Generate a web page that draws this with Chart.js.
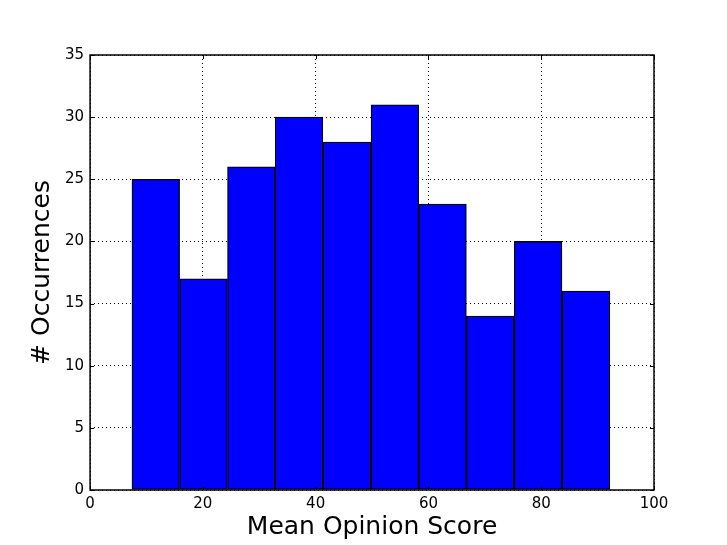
<!DOCTYPE html>
<html lang="en">
<head>
    <meta charset="UTF-8">
    <title>Mean Opinion Score histogram</title>
    <script src="https://cdn.jsdelivr.net/npm/chart.js@4.4.1/dist/chart.umd.min.js"></script>
    <style>
        html, body { margin: 0; padding: 0; background: #fff; }
        #wrap { width: 727px; height: 545px; }
    </style>
</head>
<body>
<div id="wrap"><canvas id="hist"></canvas></div>
<script>

    // histogram bins
    const binEdges = [7.4, 15.9, 24.4, 32.8, 41.3, 49.8, 58.3, 66.7, 75.2, 83.7, 92.2];
    const counts = [25, 17, 26, 30, 28, 31, 23, 14, 20, 16];
    const xTicks = [0, 20, 40, 60, 80, 100];
    const yTicks = [0, 5, 10, 15, 20, 25, 30, 35];

    let points = [];
    for (let i = 0; i < counts.length; i++) {
        points.push({x: (binEdges[i] + binEdges[i + 1]) / 2, y: counts[i]});
    }

    const font = "'DejaVu Sans', sans-serif";

    // box round the plot and small inward ticks, like matplotlib classic
    const frame = {
        id: 'frame',
        afterDraw(chart) {
            const ctx = chart.ctx;
            const a = chart.chartArea;
            const sx = chart.scales.x, sy = chart.scales.y;
            ctx.save();
            ctx.strokeStyle = '#000';
            ctx.lineWidth = 1;
            ctx.beginPath();
            xTicks.forEach(v => {
                const px = Math.round(sx.getPixelForValue(v)) + 0.5;
                ctx.moveTo(px, a.bottom); ctx.lineTo(px, a.bottom - 4);
                ctx.moveTo(px, a.top); ctx.lineTo(px, a.top + 4);
            });
            yTicks.forEach(v => {
                const py = Math.round(sy.getPixelForValue(v)) + 0.5;
                ctx.moveTo(a.left, py); ctx.lineTo(a.left + 4, py);
                ctx.moveTo(a.right, py); ctx.lineTo(a.right - 4, py);
            });
            ctx.stroke();
            ctx.lineWidth = 1.5;
            ctx.strokeRect(a.left, a.top, a.right - a.left, a.bottom - a.top);
            ctx.restore();
        }
    };

    new Chart(document.getElementById('hist'), {
        type: 'bar',
        data: {
            datasets: [{
                data: points,
                backgroundColor: '#0000ff',
                borderColor: '#000',
                borderWidth: 1.3,
                borderSkipped: false,
                barPercentage: 1,
                categoryPercentage: 1
            }]
        },
        options: {
            responsive: true,
            maintainAspectRatio: false,
            animation: false,
            layout: {padding: {top: 55, right: 73, left: 30, bottom: 2}},
            plugins: {legend: {display: false}, tooltip: {enabled: false}},
            scales: {
                x: {
                    type: 'linear',
                    offset: false,
                    min: 0, max: 100,
                    z: 1,
                    afterBuildTicks: s => { s.ticks = xTicks.map(v => ({value: v})); },
                    grid: {color: '#000', lineWidth: 1, drawTicks: false, offset: false},
                    border: {display: false, dash: [1, 3]},
                    ticks: {color: '#000', font: {family: font, size: 15}, padding: 5, maxRotation: 0},
                    title: {display: true, text: 'Mean Opinion Score', color: '#000',
                        font: {family: font, size: 25, lineHeight: 1}, padding: {top: -3, bottom: 3}}
                },
                y: {
                    min: 0, max: 35,
                    z: 1,
                    afterBuildTicks: s => { s.ticks = yTicks.map(v => ({value: v})); },
                    grid: {color: '#000', lineWidth: 1, drawTicks: false},
                    border: {display: false, dash: [1, 3]},
                    ticks: {color: '#000', font: {family: font, size: 15}, padding: 6},
                    title: {display: true, text: '# Occurrences', color: '#000',
                        font: {family: font, size: 25, lineHeight: 1}, padding: {top: 0, bottom: 4}}
                }
            }
        },
        plugins: [frame]
    });
</script>
</body>
</html>
